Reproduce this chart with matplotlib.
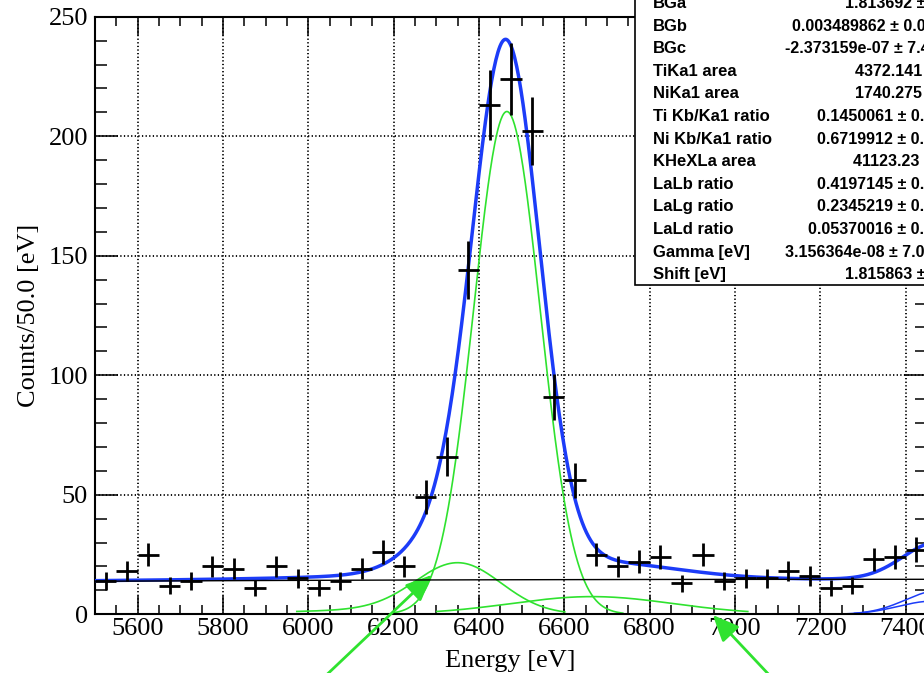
import math
import numpy as np
import matplotlib
matplotlib.use("Agg")
from matplotlib import pyplot as plt
from matplotlib.patches import Rectangle
from matplotlib.ticker import MultipleLocator

# spectrum: 50 eV bins from 5500 eV
e_lo, e_hi = 5500.0, 7450.0
bin_w = 50.0
counts = [14, 18, 25, 12, 14, 20, 19, 11, 20, 15,
          11, 14, 19, 26, 20, 49, 66, 144, 213, 224,
          202, 91, 56, 25, 20, 22, 24, 13, 25, 14,
          15, 15, 18, 16, 11, 12, 23, 24, 27]

# fit result printed in the stats box
par_names = ["BGa", "BGb", "BGc", "TiKa1 area", "NiKa1 area", "Ti Kb/Ka1 ratio",
             "Ni Kb/Ka1 ratio", "KHeXLa area", "LaLb ratio", "LaLg ratio",
             "LaLd ratio", "Gamma [eV]", "Shift [eV]"]
par_vals = ["1.813692", "0.003489862", "-2.373159e-07", "4372.141", "1740.275",
            "0.1450061", "0.6719912", "41123.23", "0.4197145", "0.2345219",
            "0.05370016", "3.156364e-08", "1.815863"]
par_errs = ["0.5291337", "0.0001928417", "7.461022e-08", "211.0374", "154.6621",
            "0.03125784", "0.09113658", "393.5217", "0.04401264", "0.03182241",
            "0.01862903", "7.080453", "0.7134287"]

BGa, BGb, BGc = float(par_vals[0]), float(par_vals[1]), float(par_vals[2])
khe_area = float(par_vals[7])
shift = float(par_vals[12])

# line shapes
khe_mu, khe_sig = 6463.5 + shift, 78.0
side_mu, side_sig, side_amp, side_tail, side_beta = 6355.0, 100.0, 20.0, 4.0, 300.0
broad_mu, broad_sig, broad_amp = 6665.0, 190.0, 7.4
ni_mu = [7478.2 + shift, 7461.0 + shift]
ni_sig = 80.0
ni_amp = [10.0, 5.5]

erfc = np.vectorize(math.erfc)


def gaus(e, mu, sig, amp):
    return amp * np.exp(-0.5 * ((e - mu) / sig) ** 2)


def tail(e, mu, sig, amp, beta):
    return amp * np.exp((e - mu) / beta + sig ** 2 / (2 * beta ** 2)) * \
        0.5 * erfc((e - mu) / (np.sqrt(2) * sig) + sig / (np.sqrt(2) * beta))


def bg(e):
    return BGa + BGb * e + BGc * e ** 2


def khe(e):
    return gaus(e, khe_mu, khe_sig, khe_area / (khe_sig * np.sqrt(2 * np.pi)))


def side(e):
    return gaus(e, side_mu, side_sig, side_amp) + tail(e, side_mu, side_sig, side_tail, side_beta)


def broad(e):
    return gaus(e, broad_mu, broad_sig, broad_amp)


def ni(e, i):
    return gaus(e, ni_mu[i], ni_sig, ni_amp[i])


def total(e):
    return bg(e) + khe(e) + side(e) + broad(e) + ni(e, 0) + ni(e, 1)


green = "#2fe22f"
blue = "#1c3cf8"
serif = "Liberation Serif"

fig = plt.figure(figsize=(9.24, 6.73), dpi=100)
ax = fig.add_axes([95 / 924, 1 - 614.3 / 673, 832 / 924, 597.6 / 673])

# components
for f, lo, hi in [(khe, 6203, 6737), (side, 5973, 6601), (broad, 6301, 7030)]:
    e = np.linspace(lo, hi, 300)
    ax.plot(e, f(e), color=green, lw=1.2, zorder=2)
for i in range(2):
    e = np.linspace(ni_mu[i] - 200, e_hi, 200)
    ax.plot(e, ni(e, i), color=blue, lw=1.1, zorder=2)

e = np.linspace(e_lo, e_hi, 800)
ax.plot(e, total(e), color=blue, lw=2.5, zorder=3)
ax.plot(e, bg(e), color="k", lw=1.0, zorder=5)

centers = e_lo + bin_w * (np.arange(len(counts)) + 0.5)
y = np.array(counts, dtype=float)
ax.errorbar(centers, y, xerr=bin_w / 2, yerr=np.sqrt(y), fmt="none",
            ecolor="k", elinewidth=2.0, capsize=0, zorder=4)

# arrows pointing at the small peaks
for tip, tail_pt in [((6290, 16.5), (6027, -28)), ((6948, -0.3), (7094, -28))]:
    ax.annotate("", xy=tip, xytext=tail_pt, annotation_clip=False,
                arrowprops=dict(arrowstyle="-|>,head_length=0.8,head_width=0.35",
                                color=green, lw=2.0, mutation_scale=20,
                                shrinkA=0, shrinkB=0))

ax.set_xlim(e_lo, e_hi)
ax.set_ylim(0, 250)
ax.xaxis.set_major_locator(MultipleLocator(200))
ax.xaxis.set_minor_locator(MultipleLocator(50))
ax.yaxis.set_major_locator(MultipleLocator(50))
ax.yaxis.set_minor_locator(MultipleLocator(10))
ax.tick_params(which="both", direction="in", top=True, right=True, width=1.1,
               labelsize=19, colors="k")
ax.tick_params(axis="x", which="major", length=13, pad=3)
ax.tick_params(axis="x", which="minor", length=6.5)
ax.tick_params(axis="y", which="major", length=16.5, pad=5)
ax.tick_params(axis="y", which="minor", length=8.6)
for lab in ax.get_xticklabels() + ax.get_yticklabels():
    lab.set_family(serif)
for s in ax.spines.values():
    s.set_linewidth(1.5)
ax.grid(True, which="major", color="k", linestyle=(0, (0.7, 1.3)), lw=1.3)

fig.text(510 / 924, 1 - 667 / 673, "Energy [eV]", ha="center", va="baseline",
         family=serif, fontsize=19)
fig.text(35 / 924, 1 - 315.5 / 673, "Counts/50.0 [eV]", ha="center", va="baseline",
         rotation=90, rotation_mode="anchor", family=serif, fontsize=19)

# stats box
fig.add_artist(Rectangle((635 / 924, 1 - 285 / 673), 0.5, 0.5, transform=fig.transFigure,
                         facecolor="white", edgecolor="k", lw=1.2, zorder=10))
val_x = [845, 792, 785, 855, 855, 817, 817, 853, 817, 817, 808, 785, 845]
for i, (n, v, err) in enumerate(zip(par_names, par_vals, par_errs)):
    yy = 1 - (3.5 + 22.6 * i) / 673
    fig.text(653 / 924, yy, n, ha="left", va="center", family="Liberation Sans",
             weight="bold", fontsize=12, zorder=11)
    fig.text(val_x[i] / 924, yy, v + " \u00b1 " + err, ha="left", va="center",
             family="Liberation Sans", weight="bold", fontsize=11.5, zorder=11)

fig.savefig("out.png", dpi=100)
